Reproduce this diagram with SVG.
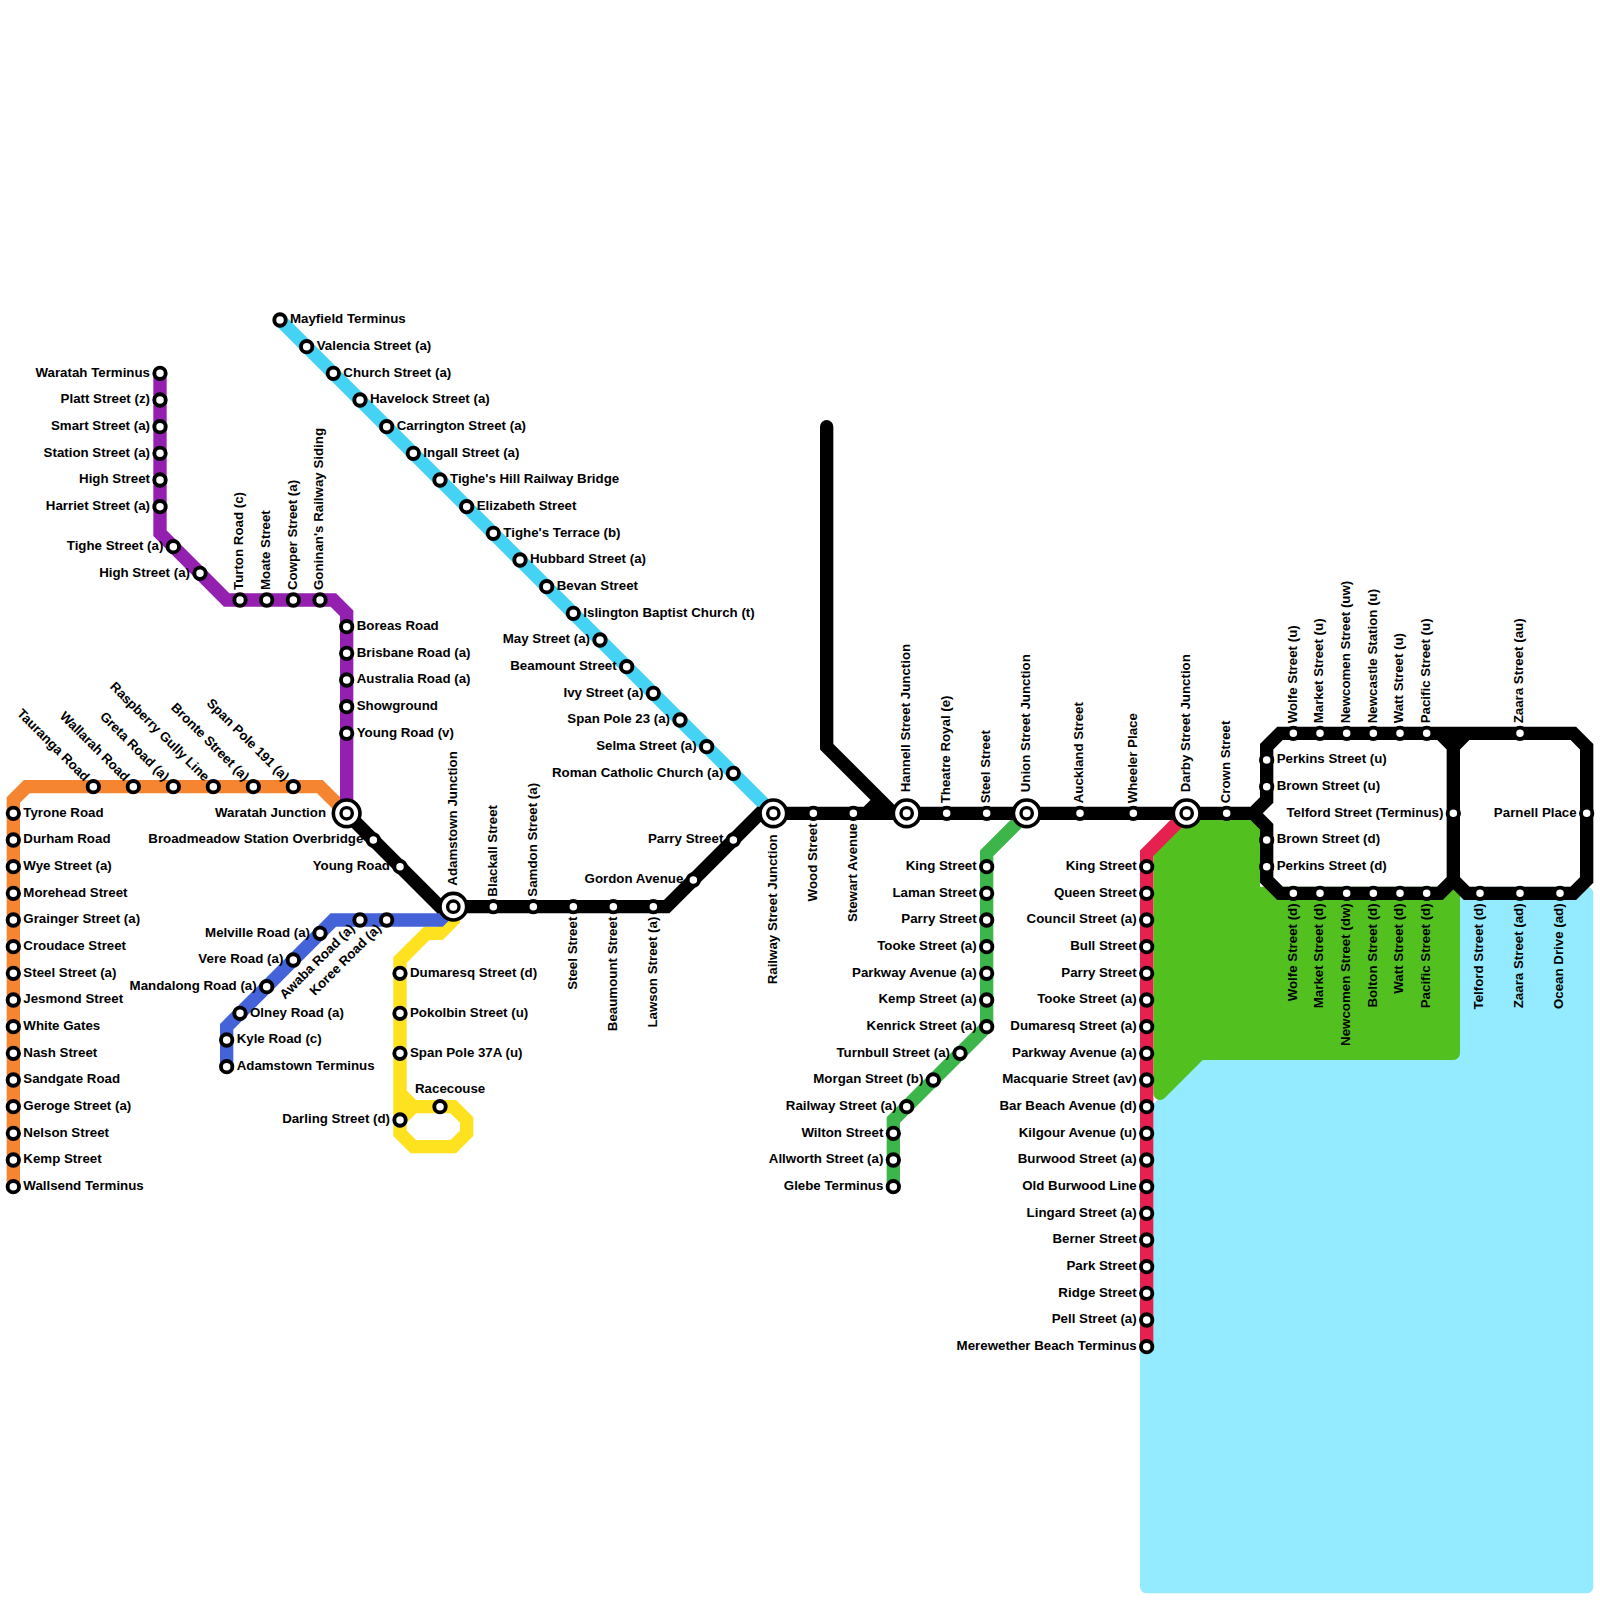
<svg xmlns="http://www.w3.org/2000/svg" width="1600" height="1600" viewBox="0 0 1600 1600">
<style>
text{font-family:"Liberation Sans",Arial,sans-serif;font-size:13.3px;font-weight:bold;fill:#000}
.e{text-anchor:end}
.a{stroke-width:1;stroke-linejoin:round}
.l{fill:none;stroke-width:1;stroke-linecap:round;stroke-linejoin:miter}
</style>
<defs>
<circle id="st" r="5.7" fill="#fff" stroke="#000" stroke-width="3.9"/>
<g id="ic"><circle r="13.33" fill="#fff" stroke="#000" stroke-width="3.6"/><circle r="5.67" fill="#fff" stroke="#000" stroke-width="3.4"/></g>
</defs>
<g id="areas" transform="scale(13.3333)">
<path class="a" fill="#94eaff" stroke="#94eaff" d="M110 67L110 78L92 78L87 83L86 84V119H119V67Z"/>
<path class="a" fill="#52c120" stroke="#52c120" d="M87 64L89 62H94V67H108L109 67V79H90L87 82Z"/>
</g>
<g id="connectors" transform="scale(13.3333)">
<path class="l" stroke="#45d3f5" d="M21 24L58 61"/>
<path class="l" stroke="#f58531" d="M1 89V60L2 59H24L26 61"/>
<path class="l" stroke="#9420b0" d="M12 28V40L17 45H25L26 46V61"/>
<path class="l" stroke="#ffe21f" d="M34 68V69L33 70H32L30 72V85L31 86H34L35 85V84L34 83H31L30 84M30 82L31 83"/>
<path class="l" stroke="#4463d9" d="M34 68L33 69H25L17 77V80"/>
<path class="l" stroke="#3cb54a" d="M77 61L74 64V77L67 84V89"/>
<path class="l" stroke="#e6204f" d="M89 61L86 64V101"/>
<path class="l" stroke="#000" d="M26 61L33 68H50L57 61H94L95 60V56L96 55H118L119 56V66L118 67H110L109 66V56L108 55M109 56L110 55M94 61L95 62V66L96 67H108L109 66M62 32V56L67 61M65 61L66 60"/>
</g>
<g id="n-tyrone" transform="translate(13.33 813.33)"><use href="#st"/><text x="10" y="3.3">Tyrone Road</text></g>
<g id="n-durham" transform="translate(13.33 840)"><use href="#st"/><text x="10" y="3.3">Durham Road</text></g>
<g id="n-wye" transform="translate(13.33 866.67)"><use href="#st"/><text x="10" y="3.3">Wye Street (a)</text></g>
<g id="n-morehead" transform="translate(13.33 893.33)"><use href="#st"/><text x="10" y="3.3">Morehead Street</text></g>
<g id="n-grainger" transform="translate(13.33 920)"><use href="#st"/><text x="10" y="3.3">Grainger Street (a)</text></g>
<g id="n-croudace" transform="translate(13.33 946.67)"><use href="#st"/><text x="10" y="3.3">Croudace Street</text></g>
<g id="n-steel-a" transform="translate(13.33 973.33)"><use href="#st"/><text x="10" y="3.3">Steel Street (a)</text></g>
<g id="n-jesmond" transform="translate(13.33 1000)"><use href="#st"/><text x="10" y="3.3">Jesmond Street</text></g>
<g id="n-white-gates" transform="translate(13.33 1026.67)"><use href="#st"/><text x="10" y="3.3">White Gates</text></g>
<g id="n-nash" transform="translate(13.33 1053.33)"><use href="#st"/><text x="10" y="3.3">Nash Street</text></g>
<g id="n-sandgate" transform="translate(13.33 1080)"><use href="#st"/><text x="10" y="3.3">Sandgate Road</text></g>
<g id="n-geroge" transform="translate(13.33 1106.67)"><use href="#st"/><text x="10" y="3.3">Geroge Street (a)</text></g>
<g id="n-nelson" transform="translate(13.33 1133.33)"><use href="#st"/><text x="10" y="3.3">Nelson Street</text></g>
<g id="n-kemp" transform="translate(13.33 1160)"><use href="#st"/><text x="10" y="3.3">Kemp Street</text></g>
<g id="n-wallsend" transform="translate(13.33 1186.67)"><use href="#st"/><text x="10" y="3.3">Wallsend Terminus</text></g>
<g id="n-tauranga" transform="translate(93.33 786.67)"><use href="#st"/><text class="e" transform="rotate(45)" x="-10" y="3.3">Tauranga Road</text></g>
<g id="n-wallarah" transform="translate(133.33 786.67)"><use href="#st"/><text class="e" transform="rotate(45)" x="-10" y="3.3">Wallarah Road</text></g>
<g id="n-greta" transform="translate(173.33 786.67)"><use href="#st"/><text class="e" transform="rotate(45)" x="-10" y="3.3">Greta Road (a)</text></g>
<g id="n-raspberry" transform="translate(213.33 786.67)"><use href="#st"/><text class="e" transform="rotate(45)" x="-10" y="3.3">Raspberry Gully Line</text></g>
<g id="n-bronte" transform="translate(253.33 786.67)"><use href="#st"/><text class="e" transform="rotate(45)" x="-10" y="3.3">Bronte Street (a)</text></g>
<g id="n-span191" transform="translate(293.33 786.67)"><use href="#st"/><text class="e" transform="rotate(45)" x="-10" y="3.3">Span Pole 191 (a)</text></g>
<g id="n-waratah-term" transform="translate(160 373.33)"><use href="#st"/><text class="e" x="-10" y="3.3">Waratah Terminus</text></g>
<g id="n-platt" transform="translate(160 400)"><use href="#st"/><text class="e" x="-10" y="3.3">Platt Street (z)</text></g>
<g id="n-smart" transform="translate(160 426.67)"><use href="#st"/><text class="e" x="-10" y="3.3">Smart Street (a)</text></g>
<g id="n-station" transform="translate(160 453.33)"><use href="#st"/><text class="e" x="-10" y="3.3">Station Street (a)</text></g>
<g id="n-high" transform="translate(160 480)"><use href="#st"/><text class="e" x="-10" y="3.3">High Street</text></g>
<g id="n-harriet" transform="translate(160 506.67)"><use href="#st"/><text class="e" x="-10" y="3.3">Harriet Street (a)</text></g>
<g id="n-tighe" transform="translate(173.33 546.67)"><use href="#st"/><text class="e" x="-10" y="3.3">Tighe Street (a)</text></g>
<g id="n-high-a" transform="translate(200 573.33)"><use href="#st"/><text class="e" x="-10" y="3.3">High Street (a)</text></g>
<g id="n-turton" transform="translate(240 600)"><use href="#st"/><text transform="rotate(-90)" x="10" y="3.3">Turton Road (c)</text></g>
<g id="n-moate" transform="translate(266.67 600)"><use href="#st"/><text transform="rotate(-90)" x="10" y="3.3">Moate Street</text></g>
<g id="n-cowper" transform="translate(293.33 600)"><use href="#st"/><text transform="rotate(-90)" x="10" y="3.3">Cowper Street (a)</text></g>
<g id="n-goninan" transform="translate(320 600)"><use href="#st"/><text transform="rotate(-90)" x="10" y="3.3">Goninan's Railway Siding</text></g>
<g id="n-boreas" transform="translate(346.67 626.67)"><use href="#st"/><text x="10" y="3.3">Boreas Road</text></g>
<g id="n-brisbane" transform="translate(346.67 653.33)"><use href="#st"/><text x="10" y="3.3">Brisbane Road (a)</text></g>
<g id="n-australia" transform="translate(346.67 680)"><use href="#st"/><text x="10" y="3.3">Australia Road (a)</text></g>
<g id="n-showground" transform="translate(346.67 706.67)"><use href="#st"/><text x="10" y="3.3">Showground</text></g>
<g id="n-young-v" transform="translate(346.67 733.33)"><use href="#st"/><text x="10" y="3.3">Young Road (v)</text></g>
<g id="n-mayfield" transform="translate(280 320)"><use href="#st"/><text x="10" y="3.3">Mayfield Terminus</text></g>
<g id="n-valencia" transform="translate(306.67 346.67)"><use href="#st"/><text x="10" y="3.3">Valencia Street (a)</text></g>
<g id="n-church" transform="translate(333.33 373.33)"><use href="#st"/><text x="10" y="3.3">Church Street (a)</text></g>
<g id="n-havelock" transform="translate(360 400)"><use href="#st"/><text x="10" y="3.3">Havelock Street (a)</text></g>
<g id="n-carrington" transform="translate(386.67 426.67)"><use href="#st"/><text x="10" y="3.3">Carrington Street (a)</text></g>
<g id="n-ingall" transform="translate(413.33 453.33)"><use href="#st"/><text x="10" y="3.3">Ingall Street (a)</text></g>
<g id="n-tighes-hill" transform="translate(440 480)"><use href="#st"/><text x="10" y="3.3">Tighe's Hill Railway Bridge</text></g>
<g id="n-elizabeth" transform="translate(466.67 506.67)"><use href="#st"/><text x="10" y="3.3">Elizabeth Street</text></g>
<g id="n-tighes-terrace" transform="translate(493.33 533.33)"><use href="#st"/><text x="10" y="3.3">Tighe's Terrace (b)</text></g>
<g id="n-hubbard" transform="translate(520 560)"><use href="#st"/><text x="10" y="3.3">Hubbard Street (a)</text></g>
<g id="n-bevan" transform="translate(546.67 586.67)"><use href="#st"/><text x="10" y="3.3">Bevan Street</text></g>
<g id="n-islington" transform="translate(573.33 613.33)"><use href="#st"/><text x="10" y="3.3">Islington Baptist Church (t)</text></g>
<g id="n-may" transform="translate(600 640)"><use href="#st"/><text class="e" x="-10" y="3.3">May Street (a)</text></g>
<g id="n-beamount-st" transform="translate(626.67 666.67)"><use href="#st"/><text class="e" x="-10" y="3.3">Beamount Street</text></g>
<g id="n-ivy" transform="translate(653.33 693.33)"><use href="#st"/><text class="e" x="-10" y="3.3">Ivy Street (a)</text></g>
<g id="n-span23" transform="translate(680 720)"><use href="#st"/><text class="e" x="-10" y="3.3">Span Pole 23 (a)</text></g>
<g id="n-selma" transform="translate(706.67 746.67)"><use href="#st"/><text class="e" x="-10" y="3.3">Selma Street (a)</text></g>
<g id="n-roman" transform="translate(733.33 773.33)"><use href="#st"/><text class="e" x="-10" y="3.3">Roman Catholic Church (a)</text></g>
<g id="n-waratah-j" transform="translate(346.67 813.33)"><use href="#ic"/><text class="e" x="-20.67" y="3.3">Waratah Junction</text></g>
<g id="n-broadmeadow" transform="translate(373.33 840)"><use href="#st"/><text class="e" x="-10" y="3.3">Broadmeadow Station Overbridge</text></g>
<g id="n-young" transform="translate(400 866.67)"><use href="#st"/><text class="e" x="-10" y="3.3">Young Road</text></g>
<g id="n-adamstown-j" transform="translate(453.33 906.67)"><use href="#ic"/><text transform="rotate(-90)" x="21" y="3.3">Adamstown Junction</text></g>
<g id="n-blackall" transform="translate(493.33 906.67)"><use href="#st"/><text transform="rotate(-90)" x="10" y="3.3">Blackall Street</text></g>
<g id="n-samdon" transform="translate(533.33 906.67)"><use href="#st"/><text transform="rotate(-90)" x="10" y="3.3">Samdon Street (a)</text></g>
<g id="n-steel-68" transform="translate(573.33 906.67)"><use href="#st"/><text class="e" transform="rotate(-90)" x="-10" y="3.3">Steel Street</text></g>
<g id="n-beaumount" transform="translate(613.33 906.67)"><use href="#st"/><text class="e" transform="rotate(-90)" x="-10" y="3.3">Beaumount Street</text></g>
<g id="n-lawson" transform="translate(653.33 906.67)"><use href="#st"/><text class="e" transform="rotate(-90)" x="-10" y="3.3">Lawson Street (a)</text></g>
<g id="n-gordon" transform="translate(693.33 880)"><use href="#st"/><text class="e" x="-10" y="3.3">Gordon Avenue</text></g>
<g id="n-parry-55" transform="translate(733.33 840)"><use href="#st"/><text class="e" x="-10" y="3.3">Parry Street</text></g>
<g id="n-railway-j" transform="translate(773.33 813.33)"><use href="#ic"/><text class="e" transform="rotate(-90)" x="-21" y="3.3">Railway Street Junction</text></g>
<g id="n-wood" transform="translate(813.33 813.33)"><use href="#st"/><text class="e" transform="rotate(-90)" x="-10" y="3.3">Wood Street</text></g>
<g id="n-stewart" transform="translate(853.33 813.33)"><use href="#st"/><text class="e" transform="rotate(-90)" x="-10" y="3.3">Stewart Avenue</text></g>
<g id="n-hannell" transform="translate(906.67 813.33)"><use href="#ic"/><text transform="rotate(-90)" x="21" y="3.3">Hannell Street Junction</text></g>
<g id="n-theatre" transform="translate(946.67 813.33)"><use href="#st"/><text transform="rotate(-90)" x="10" y="3.3">Theatre Royal (e)</text></g>
<g id="n-steel-74" transform="translate(986.67 813.33)"><use href="#st"/><text transform="rotate(-90)" x="10" y="3.3">Steel Street</text></g>
<g id="n-union" transform="translate(1026.67 813.33)"><use href="#ic"/><text transform="rotate(-90)" x="21" y="3.3">Union Street Junction</text></g>
<g id="n-auckland" transform="translate(1080 813.33)"><use href="#st"/><text transform="rotate(-90)" x="10" y="3.3">Auckland Street</text></g>
<g id="n-wheeler" transform="translate(1133.33 813.33)"><use href="#st"/><text transform="rotate(-90)" x="10" y="3.3">Wheeler Place</text></g>
<g id="n-darby" transform="translate(1186.67 813.33)"><use href="#ic"/><text transform="rotate(-90)" x="21" y="3.3">Darby Street Junction</text></g>
<g id="n-crown" transform="translate(1226.67 813.33)"><use href="#st"/><text transform="rotate(-90)" x="10" y="3.3">Crown Street</text></g>
<g id="n-perkins-u" transform="translate(1266.67 760)"><use href="#st"/><text x="10" y="3.3">Perkins Street (u)</text></g>
<g id="n-brown-u" transform="translate(1266.67 786.67)"><use href="#st"/><text x="10" y="3.3">Brown Street (u)</text></g>
<g id="n-brown-d" transform="translate(1266.67 840)"><use href="#st"/><text x="10" y="3.3">Brown Street (d)</text></g>
<g id="n-perkins-d" transform="translate(1266.67 866.67)"><use href="#st"/><text x="10" y="3.3">Perkins Street (d)</text></g>
<g id="n-wolfe-u" transform="translate(1293.33 733.33)"><use href="#st"/><text transform="rotate(-90)" x="10" y="3.3">Wolfe Street (u)</text></g>
<g id="n-market-u" transform="translate(1320 733.33)"><use href="#st"/><text transform="rotate(-90)" x="10" y="3.3">Market Street (u)</text></g>
<g id="n-newcomen-uw" transform="translate(1346.67 733.33)"><use href="#st"/><text transform="rotate(-90)" x="10" y="3.3">Newcomen Street (uw)</text></g>
<g id="n-newcastle" transform="translate(1373.33 733.33)"><use href="#st"/><text transform="rotate(-90)" x="10" y="3.3">Newcastle Station (u)</text></g>
<g id="n-watt-u" transform="translate(1400 733.33)"><use href="#st"/><text transform="rotate(-90)" x="10" y="3.3">Watt Street (u)</text></g>
<g id="n-pacific-u" transform="translate(1426.67 733.33)"><use href="#st"/><text transform="rotate(-90)" x="10" y="3.3">Pacific Street (u)</text></g>
<g id="n-zaara-au" transform="translate(1520 733.33)"><use href="#st"/><text transform="rotate(-90)" x="10" y="3.3">Zaara Street (au)</text></g>
<g id="n-wolfe-d" transform="translate(1293.33 893.33)"><use href="#st"/><text class="e" transform="rotate(-90)" x="-10" y="3.3">Wolfe Street (d)</text></g>
<g id="n-market-d" transform="translate(1320 893.33)"><use href="#st"/><text class="e" transform="rotate(-90)" x="-10" y="3.3">Market Street (d)</text></g>
<g id="n-newcomen-dw" transform="translate(1346.67 893.33)"><use href="#st"/><text class="e" transform="rotate(-90)" x="-10" y="3.3">Newcomen Street (dw)</text></g>
<g id="n-bolton" transform="translate(1373.33 893.33)"><use href="#st"/><text class="e" transform="rotate(-90)" x="-10" y="3.3">Bolton Street (d)</text></g>
<g id="n-watt-d" transform="translate(1400 893.33)"><use href="#st"/><text class="e" transform="rotate(-90)" x="-10" y="3.3">Watt Street (d)</text></g>
<g id="n-pacific-d" transform="translate(1426.67 893.33)"><use href="#st"/><text class="e" transform="rotate(-90)" x="-10" y="3.3">Pacific Street (d)</text></g>
<g id="n-telford-d" transform="translate(1480 893.33)"><use href="#st"/><text class="e" transform="rotate(-90)" x="-10" y="3.3">Telford Street (d)</text></g>
<g id="n-zaara-ad" transform="translate(1520 893.33)"><use href="#st"/><text class="e" transform="rotate(-90)" x="-10" y="3.3">Zaara Street (ad)</text></g>
<g id="n-ocean" transform="translate(1560 893.33)"><use href="#st"/><text class="e" transform="rotate(-90)" x="-10" y="3.3">Ocean Drive (ad)</text></g>
<g id="n-telford-term" transform="translate(1453.33 813.33)"><use href="#st"/><text class="e" x="-10" y="3.3">Telford Street (Terminus)</text></g>
<g id="n-parnell" transform="translate(1586.67 813.33)"><use href="#st"/><text class="e" x="-10" y="3.3">Parnell Place</text></g>
<g id="n-melville" transform="translate(320 933.33)"><use href="#st"/><text class="e" x="-10" y="3.3">Melville Road (a)</text></g>
<g id="n-vere" transform="translate(293.33 960)"><use href="#st"/><text class="e" x="-10" y="3.3">Vere Road (a)</text></g>
<g id="n-mandalong" transform="translate(266.67 986.67)"><use href="#st"/><text class="e" x="-10" y="3.3">Mandalong Road (a)</text></g>
<g id="n-olney" transform="translate(240 1013.33)"><use href="#st"/><text x="10" y="3.3">Olney Road (a)</text></g>
<g id="n-kyle" transform="translate(226.67 1040)"><use href="#st"/><text x="10" y="3.3">Kyle Road (c)</text></g>
<g id="n-adamstown-t" transform="translate(226.67 1066.67)"><use href="#st"/><text x="10" y="3.3">Adamstown Terminus</text></g>
<g id="n-awaba" transform="translate(360 920)"><use href="#st"/><text class="e" transform="rotate(-45)" x="-10" y="3.3">Awaba Road (a)</text></g>
<g id="n-koree" transform="translate(386.67 920)"><use href="#st"/><text class="e" transform="rotate(-45)" x="-10" y="3.3">Koree Road (a)</text></g>
<g id="n-dumaresq-d" transform="translate(400 973.33)"><use href="#st"/><text x="10" y="3.3">Dumaresq Street (d)</text></g>
<g id="n-pokolbin" transform="translate(400 1013.33)"><use href="#st"/><text x="10" y="3.3">Pokolbin Street (u)</text></g>
<g id="n-span37" transform="translate(400 1053.33)"><use href="#st"/><text x="10" y="3.3">Span Pole 37A (u)</text></g>
<g id="n-racecourse" transform="translate(440 1106.67)"><use href="#st"/><text x="-25" y="-13.67">Racecouse</text></g>
<g id="n-darling" transform="translate(400 1120)"><use href="#st"/><text class="e" x="-10" y="3.3">Darling Street (d)</text></g>
<g id="n-king-g" transform="translate(986.67 866.67)"><use href="#st"/><text class="e" x="-10" y="3.3">King Street</text></g>
<g id="n-laman" transform="translate(986.67 893.33)"><use href="#st"/><text class="e" x="-10" y="3.3">Laman Street</text></g>
<g id="n-parry-g" transform="translate(986.67 920)"><use href="#st"/><text class="e" x="-10" y="3.3">Parry Street</text></g>
<g id="n-tooke-g" transform="translate(986.67 946.67)"><use href="#st"/><text class="e" x="-10" y="3.3">Tooke Street (a)</text></g>
<g id="n-parkway-g" transform="translate(986.67 973.33)"><use href="#st"/><text class="e" x="-10" y="3.3">Parkway Avenue (a)</text></g>
<g id="n-kemp-g" transform="translate(986.67 1000)"><use href="#st"/><text class="e" x="-10" y="3.3">Kemp Street (a)</text></g>
<g id="n-kenrick" transform="translate(986.67 1026.67)"><use href="#st"/><text class="e" x="-10" y="3.3">Kenrick Street (a)</text></g>
<g id="n-turnbull" transform="translate(960 1053.33)"><use href="#st"/><text class="e" x="-10" y="3.3">Turnbull Street (a)</text></g>
<g id="n-morgan" transform="translate(933.33 1080)"><use href="#st"/><text class="e" x="-10" y="3.3">Morgan Street (b)</text></g>
<g id="n-railway-a" transform="translate(906.67 1106.67)"><use href="#st"/><text class="e" x="-10" y="3.3">Railway Street (a)</text></g>
<g id="n-wilton" transform="translate(893.33 1133.33)"><use href="#st"/><text class="e" x="-10" y="3.3">Wilton Street</text></g>
<g id="n-allworth" transform="translate(893.33 1160)"><use href="#st"/><text class="e" x="-10" y="3.3">Allworth Street (a)</text></g>
<g id="n-glebe" transform="translate(893.33 1186.67)"><use href="#st"/><text class="e" x="-10" y="3.3">Glebe Terminus</text></g>
<g id="n-king-r" transform="translate(1146.67 866.67)"><use href="#st"/><text class="e" x="-10" y="3.3">King Street</text></g>
<g id="n-queen" transform="translate(1146.67 893.33)"><use href="#st"/><text class="e" x="-10" y="3.3">Queen Street</text></g>
<g id="n-council" transform="translate(1146.67 920)"><use href="#st"/><text class="e" x="-10" y="3.3">Council Street (a)</text></g>
<g id="n-bull" transform="translate(1146.67 946.67)"><use href="#st"/><text class="e" x="-10" y="3.3">Bull Street</text></g>
<g id="n-parry-r" transform="translate(1146.67 973.33)"><use href="#st"/><text class="e" x="-10" y="3.3">Parry Street</text></g>
<g id="n-tooke-r" transform="translate(1146.67 1000)"><use href="#st"/><text class="e" x="-10" y="3.3">Tooke Street (a)</text></g>
<g id="n-dumaresq-a" transform="translate(1146.67 1026.67)"><use href="#st"/><text class="e" x="-10" y="3.3">Dumaresq Street (a)</text></g>
<g id="n-parkway-r" transform="translate(1146.67 1053.33)"><use href="#st"/><text class="e" x="-10" y="3.3">Parkway Avenue (a)</text></g>
<g id="n-macquarie" transform="translate(1146.67 1080)"><use href="#st"/><text class="e" x="-10" y="3.3">Macquarie Street (av)</text></g>
<g id="n-bar-beach" transform="translate(1146.67 1106.67)"><use href="#st"/><text class="e" x="-10" y="3.3">Bar Beach Avenue (d)</text></g>
<g id="n-kilgour" transform="translate(1146.67 1133.33)"><use href="#st"/><text class="e" x="-10" y="3.3">Kilgour Avenue (u)</text></g>
<g id="n-burwood" transform="translate(1146.67 1160)"><use href="#st"/><text class="e" x="-10" y="3.3">Burwood Street (a)</text></g>
<g id="n-old-burwood" transform="translate(1146.67 1186.67)"><use href="#st"/><text class="e" x="-10" y="3.3">Old Burwood Line</text></g>
<g id="n-lingard" transform="translate(1146.67 1213.33)"><use href="#st"/><text class="e" x="-10" y="3.3">Lingard Street (a)</text></g>
<g id="n-berner" transform="translate(1146.67 1240)"><use href="#st"/><text class="e" x="-10" y="3.3">Berner Street</text></g>
<g id="n-park" transform="translate(1146.67 1266.67)"><use href="#st"/><text class="e" x="-10" y="3.3">Park Street</text></g>
<g id="n-ridge" transform="translate(1146.67 1293.33)"><use href="#st"/><text class="e" x="-10" y="3.3">Ridge Street</text></g>
<g id="n-pell" transform="translate(1146.67 1320)"><use href="#st"/><text class="e" x="-10" y="3.3">Pell Street (a)</text></g>
<g id="n-merewether" transform="translate(1146.67 1346.67)"><use href="#st"/><text class="e" x="-10" y="3.3">Merewether Beach Terminus</text></g>
</svg>
